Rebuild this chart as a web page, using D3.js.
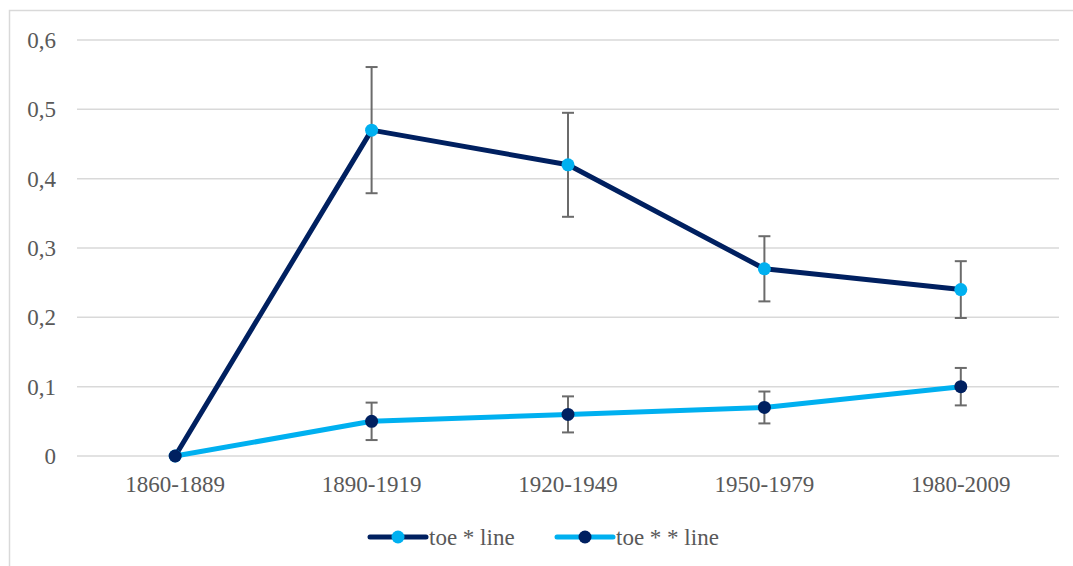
<!DOCTYPE html>
<html>
<head>
<meta charset="utf-8">
<script src="https://cdn.jsdelivr.net/npm/d3@7"></script>
<style>
  body { margin: 0; background: #fff; }
</style>
</head>
<body>
<div id="chart"></div>
<script>
const periods = ["1860-1889", "1890-1919", "1920-1949", "1950-1979", "1980-2009"];
const lineOne = [0, 0.47, 0.42, 0.27, 0.24];
const lineOneErr = [0, 0.091, 0.075, 0.047, 0.041];
const lineTwo = [0, 0.05, 0.06, 0.07, 0.10];
const lineTwoErr = [0, 0.027, 0.026, 0.023, 0.027];
const yTicks = [0, 0.1, 0.2, 0.3, 0.4, 0.5, 0.6];
const seriesNames = ["toe * line", "toe * * line"];

const navy = "#002060", sky = "#00B0F0";
const width = 1073, height = 566;
const margin = { top: 40, right: 14, bottom: 110, left: 77 };
const font = "Liberation Serif";

const svg = d3.select("#chart").append("svg")
    .attr("width", width)
    .attr("height", height);

// chart area border
svg.append("rect")
    .attr("x", 9.5).attr("y", 10.5)
    .attr("width", width + 10).attr("height", height + 10)
    .attr("fill", "none")
    .attr("stroke", "#d9d9d9")
    .attr("stroke-width", 1.5);

const x = d3.scalePoint()
    .domain(periods)
    .range([margin.left, width - margin.right])
    .padding(0.5);

const y = d3.scaleLinear()
    .domain([0, 0.6])
    .range([height - margin.bottom, margin.top]);

// gridlines
svg.append("g")
    .selectAll("line")
    .data(yTicks)
    .enter()
    .append("line")
    .attr("x1", margin.left)
    .attr("x2", width - margin.right)
    .attr("y1", d => y(d))
    .attr("y2", d => y(d))
    .attr("stroke", "#d9d9d9")
    .attr("stroke-width", 1.5);

svg.append("g")
    .selectAll("text")
    .data(yTicks)
    .enter()
    .append("text")
    .attr("x", 56)
    .attr("y", d => y(d) + 8)
    .attr("text-anchor", "end")
    .style("font", `23px "${font}"`)
    .attr("fill", "#595959")
    .text(d => d === 0 ? "0" : d3.format(".1f")(d).replace(".", ","));

svg.append("g")
    .selectAll("text")
    .data(periods)
    .enter()
    .append("text")
    .attr("x", d => x(d))
    .attr("y", 492)
    .attr("text-anchor", "middle")
    .style("font", `23px "${font}"`)
    .attr("fill", "#595959")
    .text(d => d);

const series = [
    { name: seriesNames[0], vals: lineOne, err: lineOneErr, line: navy, dot: sky },
    { name: seriesNames[1], vals: lineTwo, err: lineTwoErr, line: sky, dot: navy }
];

const lineGen = d3.line()
    .x((d, i) => x(periods[i]))
    .y(d => y(d));

series.forEach(s => {
    const g = svg.append("g");

    // error bars
    const eb = g.selectAll("g.err")
        .data(s.vals.map((v, i) => ({ v, e: s.err[i], p: periods[i] })).filter(d => d.e > 0))
        .enter()
        .append("g")
        .attr("stroke", "#6b6b6b")
        .attr("stroke-width", 2);
    eb.append("line")
        .attr("x1", d => x(d.p)).attr("x2", d => x(d.p))
        .attr("y1", d => y(d.v + d.e)).attr("y2", d => y(d.v - d.e));
    eb.append("line")
        .attr("x1", d => x(d.p) - 6).attr("x2", d => x(d.p) + 6)
        .attr("y1", d => y(d.v + d.e)).attr("y2", d => y(d.v + d.e));
    eb.append("line")
        .attr("x1", d => x(d.p) - 6).attr("x2", d => x(d.p) + 6)
        .attr("y1", d => y(d.v - d.e)).attr("y2", d => y(d.v - d.e));

    g.append("path")
        .datum(s.vals)
        .attr("d", lineGen)
        .attr("fill", "none")
        .attr("stroke", s.line)
        .attr("stroke-width", 5)
        .attr("stroke-linejoin", "round");

    g.selectAll("circle")
        .data(s.vals)
        .enter()
        .append("circle")
        .attr("cx", (d, i) => x(periods[i]))
        .attr("cy", d => y(d))
        .attr("r", 6.5)
        .attr("fill", s.dot);
});

// legend
const legendPos = [370, 557];
series.forEach((s, i) => {
    const lg = svg.append("g").attr("transform", `translate(${legendPos[i]}, 537)`);
    lg.append("line")
        .attr("x1", 0).attr("x2", 56)
        .attr("stroke", s.line)
        .attr("stroke-width", 5)
        .attr("stroke-linecap", "round");
    lg.append("circle")
        .attr("cx", 28).attr("r", 6.5)
        .attr("fill", s.dot);
    lg.append("text")
        .attr("x", 59)
        .attr("y", 8)
        .style("font", `23px "${font}"`)
        .attr("fill", "#595959")
        .text(s.name);
});
</script>
</body>
</html>
